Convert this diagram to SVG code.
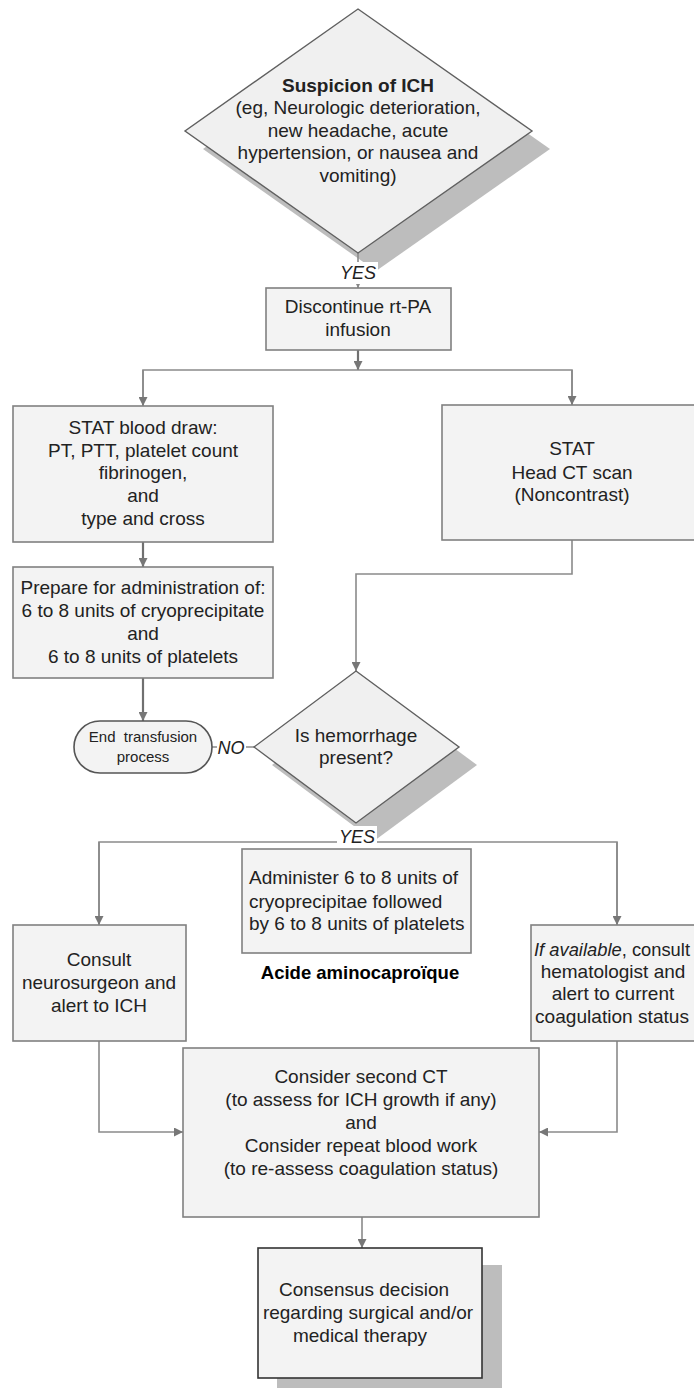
<svg xmlns="http://www.w3.org/2000/svg" width="694" height="1390" viewBox="0 0 694 1390">
<style>
text{font-family:"Liberation Sans",Arial,sans-serif;fill:#222;font-size:19px;text-anchor:middle}
.box{fill:#f3f3f3;stroke:#808080;stroke-width:1.6}
.dia{fill:#f0f0f0;stroke:#606060;stroke-width:1.4}
.sh{fill:#bdbdbd}
.c{fill:none;stroke:#8a8a8a;stroke-width:1.6}
.ct{fill:none;stroke:#707070;stroke-width:2.2}
.lbl{font-style:italic;font-size:18px}
.bg{fill:#fff}
.b{font-weight:bold}
.l{text-anchor:start}
</style>
<defs>
<marker id="ah" viewBox="0 0 10 10" refX="10" refY="5" markerWidth="9" markerHeight="9" markerUnits="userSpaceOnUse" orient="auto">
<path d="M0,0 L10,5 L0,10 z" fill="#777"/>
</marker>
<marker id="ahs" viewBox="0 0 10 10" refX="10" refY="5" markerWidth="6" markerHeight="6" markerUnits="userSpaceOnUse" orient="auto">
<path d="M0,0 L10,5 L0,10 z" fill="#888"/>
</marker>
</defs>

<g id="shadows">
<polygon class="sh" points="376,27 550,149 376,271 203,149"/>
<polygon class="sh" points="374,689 477,765 374,841 272,765"/>
<rect class="sh" x="277" y="1265" width="225" height="123"/>
</g>

<g id="connectors">
<line class="c" x1="358" y1="253" x2="358" y2="288" marker-end="url(#ahs)"/>
<line class="ct" x1="358" y1="350" x2="358" y2="370" marker-end="url(#ah)"/>
<polyline class="c" points="143,405 143,370 572,370 572,405"/>
<line class="c" x1="143" y1="370" x2="143" y2="406" marker-end="url(#ah)"/>
<line class="c" x1="572" y1="370" x2="572" y2="405" marker-end="url(#ah)"/>
<line class="ct" x1="143" y1="542" x2="143" y2="567" marker-end="url(#ah)"/>
<polyline class="c" points="572,540 572,574 356,574 356,671" marker-end="url(#ah)"/>
<line class="ct" x1="143" y1="678" x2="143" y2="721" marker-end="url(#ah)"/>
<line class="c" x1="254" y1="747" x2="212" y2="747"/>
<polyline class="c" points="99,924 99,842 617,842 617,924"/>
<line class="c" x1="99" y1="842" x2="99" y2="925" marker-end="url(#ah)"/>
<line class="c" x1="617" y1="842" x2="617" y2="925" marker-end="url(#ah)"/>
<polyline class="c" points="99,1041 99,1132 183,1132" marker-end="url(#ah)"/>
<polyline class="c" points="617,1041 617,1132 539,1132" marker-end="url(#ah)"/>
<line class="c" x1="362" y1="1217" x2="362" y2="1248" marker-end="url(#ah)"/>
</g>

<g id="n-suspicion">
<polygon class="dia" points="358,9 532,131 358,253 185,131"/>
<text x="358" y="92" class="b">Suspicion of ICH</text>
<text x="358" y="114">(eg, Neurologic deterioration,</text>
<text x="358" y="137">new headache, acute</text>
<text x="358" y="159">hypertension, or nausea and</text>
<text x="358" y="182">vomiting)</text>
</g>

<g id="n-discontinue">
<rect class="box" x="266" y="288" width="185" height="62"/>
<text x="358" y="313">Discontinue rt-PA</text>
<text x="358" y="336">infusion</text>
</g>

<g id="n-blood">
<rect class="box" x="13" y="406" width="260" height="136"/>
<text x="143" y="434">STAT blood draw:</text>
<text x="143" y="457">PT, PTT, platelet count</text>
<text x="143" y="479">fibrinogen,</text>
<text x="143" y="502">and</text>
<text x="143" y="525">type and cross</text>
</g>

<g id="n-ct">
<rect class="box" x="442" y="405" width="262" height="135"/>
<text x="572" y="455">STAT</text>
<text x="572" y="479">Head CT scan</text>
<text x="572" y="501">(Noncontrast)</text>
</g>

<g id="n-prepare">
<rect class="box" x="13" y="567" width="260" height="111"/>
<text x="143" y="594">Prepare for administration of:</text>
<text x="143" y="617">6 to 8 units of cryoprecipitate</text>
<text x="143" y="640">and</text>
<text x="143" y="663">6 to 8 units of platelets</text>
</g>

<g id="n-end">
<rect class="box" x="74" y="721" width="138" height="52" rx="26" ry="26" style="stroke:#555"/>
<text x="143" y="742" style="font-size:15px" xml:space="preserve">End  transfusion</text>
<text x="143" y="762" style="font-size:15px">process</text>
</g>

<g id="n-hemorrhage">
<polygon class="dia" points="356,671 459,747 356,823 254,747"/>
<text x="356" y="742">Is hemorrhage</text>
<text x="356" y="764">present?</text>
</g>

<g id="labels">
<rect class="bg" x="338" y="262" width="40" height="22"/>
<text class="lbl" x="358" y="279">YES</text>
<rect class="bg" x="217" y="738" width="29" height="19"/>
<text class="lbl" x="231" y="754">NO</text>
<rect class="bg" x="337" y="826" width="40" height="20"/>
<text class="lbl" x="357" y="843">YES</text>
</g>

<g id="n-administer">
<rect class="box" x="242" y="849" width="229" height="104"/>
<text class="l" x="249" y="884">Administer 6 to 8 units of</text>
<text class="l" x="249" y="908">cryoprecipitae followed</text>
<text class="l" x="249" y="930">by 6 to 8 units of platelets</text>
</g>

<g id="n-acide">
<text x="360" y="979" class="b" style="font-size:18.5px;fill:#000">Acide aminocaproïque</text>
</g>

<g id="n-consult">
<rect class="box" x="13" y="925" width="173" height="116"/>
<text x="99" y="966">Consult</text>
<text x="99" y="989">neurosurgeon and</text>
<text x="99" y="1012">alert to ICH</text>
</g>

<g id="n-hematologist">
<rect class="box" x="531" y="925" width="180" height="116"/>
<text x="612" y="956" textLength="156" lengthAdjust="spacingAndGlyphs"><tspan font-style="italic">If available</tspan>, consult</text>
<text x="613" y="978">hematologist and</text>
<text x="613" y="1000">alert to current</text>
<text x="612" y="1023" textLength="154" lengthAdjust="spacingAndGlyphs">coagulation status</text>
</g>

<g id="n-consider">
<rect class="box" x="183" y="1048" width="356" height="169"/>
<text x="361" y="1083">Consider second CT</text>
<text x="361" y="1106">(to assess for ICH growth if any)</text>
<text x="361" y="1129">and</text>
<text x="361" y="1152">Consider repeat blood work</text>
<text x="361" y="1175">(to re-assess coagulation status)</text>
</g>

<g id="n-consensus">
<rect class="box" x="258" y="1248" width="224" height="130" style="stroke:#333"/>
<text x="364" y="1296">Consensus decision</text>
<text x="368" y="1319">regarding surgical and/or</text>
<text x="360" y="1342">medical therapy</text>
</g>
</svg>
